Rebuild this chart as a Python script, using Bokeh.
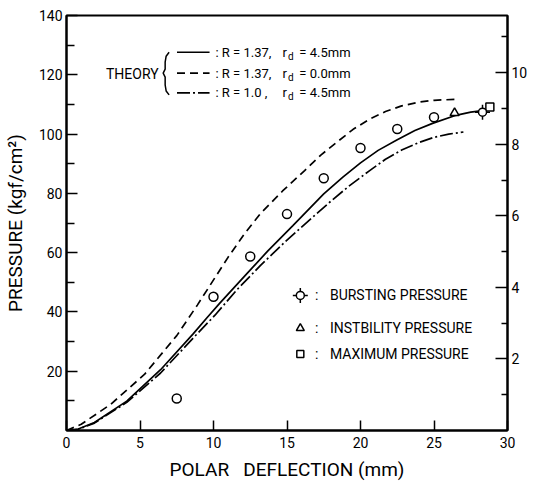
import math
from bokeh.plotting import figure
from bokeh.models import Range1d, LinearAxis, FixedTicker, Label
from bokeh.core.properties import value
from bokeh.embed import file_html
from bokeh.resources import INLINE

FONT = "Roboto"

# ---------------- data ----------------
# theory: R = 1.37, rd = 4.5 mm (solid)
solid_x = [0, 0.8, 1.9, 4.1, 6.4, 8.6, 9.6, 10.4, 12.1, 13.7, 15.4, 17.5, 18.8, 20.0, 21.2, 22.5, 23.7, 24.9, 26.4, 27.5, 28.3]
solid_y = [0, 0.5, 2.7, 9.9, 20.5, 32.5, 38.3, 42.8, 52.0, 60.6, 69.1, 79.8, 85.5, 90.3, 94.5, 98.1, 101.2, 103.6, 106.2, 107.4, 107.9]
# theory: R = 1.37, rd = 0.0 mm (dashed)
dash_x = [0, 1.0, 3.0, 5.3, 7.5, 8.9, 11.0, 12.1, 13.2, 14.7, 16.2, 17.3, 18.4, 19.5, 20.6, 21.7, 22.8, 24.0, 25.0, 26.4]
dash_y = [0, 2.1, 8.8, 18.9, 32.0, 42.3, 58.5, 66.3, 73.2, 80.8, 87.7, 92.9, 97.3, 101.6, 105.0, 107.6, 109.5, 110.8, 111.4, 111.7]
# theory: R = 1.0, rd = 4.5 mm (dash-dot)
dd_x = [0, 0.8, 1.9, 4.1, 6.4, 8.6, 10.1, 11.6, 13.2, 14.9, 16.6, 17.9, 19.2, 20.6, 21.7, 22.8, 24.0, 25.0, 26.0, 27.0]
dd_y = [0, 0.4, 2.5, 9.5, 19.4, 31.1, 38.9, 47.5, 55.7, 63.8, 71.3, 77.0, 82.4, 87.6, 91.5, 94.6, 97.2, 98.9, 100.0, 100.7]
# experiment
exp_x = [7.5, 10, 12.5, 15, 17.5, 20, 22.5, 25]
exp_y = [10.8, 45.1, 58.7, 73.0, 85.1, 95.3, 101.7, 105.7]
inst_x = [26.4]
inst_y = [107.1]
burst_x = [28.3]
burst_y = [107.4]
max_x = [28.8]
max_y = [109.1]

x_ticks = [0, 5, 10, 15, 20, 25, 30]
y_ticks = [20, 40, 60, 80, 100, 120, 140]
y_minor = [10, 30, 50, 70, 90, 110, 130]
mpa_ticks = [2, 4, 6, 8, 10]
mpa_minor = [1, 3, 5, 7, 9, 11]

theory_r = ["1.37", "1.37", "1.0 "]
theory_rd = ["4.5mm", "0.0mm", "4.5mm"]
marker_labels = ["BURSTING  PRESSURE", "INSTBILITY  PRESSURE", "MAXIMUM  PRESSURE"]

# ---------------- figure ----------------
p = figure(width=545, height=483, x_range=Range1d(0, 30), y_range=Range1d(0, 140),
           output_backend="svg", toolbar_location=None,
           min_border_left=60, min_border_right=38, min_border_top=15, min_border_bottom=50)
p.xgrid.visible = False
p.ygrid.visible = False
p.outline_line_color = "black"
p.outline_line_width = 2
p.background_fill_color = "white"
p.border_fill_color = "white"

# frame pixel helpers (frame: x 60..507, y 15..433)
def px(xp):
    return (xp - 60) / 447 * 30

def py(yp):
    return (433 - yp) / 418 * 140

for ax in (p.xaxis[0], p.yaxis[0]):
    ax.axis_line_width = 2
    ax.major_tick_line_width = 1.5
    ax.minor_tick_line_width = 1.5
    ax.major_tick_out = 0
    ax.minor_tick_out = 0
    ax.major_label_text_font = FONT
    ax.major_label_text_font_size = "14px"
    ax.major_label_text_color = "black"
    ax.axis_label_text_font = FONT
    ax.axis_label_text_font_size = "19px"
    ax.axis_label_text_font_style = "normal"
    ax.axis_label_text_color = "black"

p.xaxis.ticker = FixedTicker(ticks=x_ticks, minor_ticks=[])
p.xaxis.major_tick_in = 10
p.xaxis.major_label_standoff = 6
p.xaxis.axis_label = "POLAR\u00a0\u00a0\u00a0DEFLECTION (mm)"
p.xaxis.axis_label_standoff = 7

p.yaxis.ticker = FixedTicker(ticks=y_ticks, minor_ticks=y_minor)
p.yaxis.major_tick_in = 11
p.yaxis.minor_tick_in = 8
p.yaxis.major_label_standoff = 4
p.yaxis.axis_label = "PRESSURE (kgf/cm\u00b2)"
p.yaxis.axis_label_standoff = 9

p.extra_y_ranges = {"mpa": Range1d(0, 11.6)}
rax = LinearAxis(y_range_name="mpa", ticker=FixedTicker(ticks=mpa_ticks, minor_ticks=mpa_minor))
rax.axis_line_width = 2
rax.major_tick_line_width = 1.5
rax.minor_tick_line_width = 1.5
rax.major_tick_in = 12
rax.major_tick_out = 0
rax.minor_tick_in = 6
rax.minor_tick_out = 0
rax.major_label_standoff = 4
rax.major_label_text_font = FONT
rax.major_label_text_font_size = "14px"
rax.major_label_text_color = "black"
p.add_layout(rax, "right")

p.add_layout(Label(x=px(532), y=py(222), text="PRESSURE (MPa)", angle=math.pi / 2,
                   text_font=FONT, text_font_size="18px", text_color="black",
                   text_align="center", text_baseline="middle"))

# ---------------- theory curves ----------------
p.line(solid_x, solid_y, line_color="black", line_width=1.7)
p.line(dash_x, dash_y, line_color="black", line_width=1.7, line_dash="8 5")
p.line(dd_x, dd_y, line_color="black", line_width=1.7, line_dash="13 3 2 3")

# ---------------- experimental points ----------------
p.scatter(exp_x, exp_y, marker="circle", size=9, line_color="black", line_width=1.5, fill_color=None)
p.scatter(inst_x, inst_y, marker="triangle", size=9, line_color="black", line_width=1.5, fill_color="white")
p.scatter(max_x, max_y, marker="square", size=8, line_color="black", line_width=1.5, fill_color="white")
p.scatter(burst_x, burst_y, marker="cross", size=15, line_color="black", line_width=1.5)
p.scatter(burst_x, burst_y, marker="circle", size=8, line_color="black", line_width=1.5, fill_color="white")

# ---------------- theory legend ----------------
tf = value(FONT)
p.text([px(100)], [py(74)], text=["THEORY"], text_font=tf, text_font_size="14px",
       text_baseline="middle", text_align="left", text_color="black")
brace_px = [(164, 52), (161, 56), (160, 62), (160, 69), (158, 73), (160, 77), (160, 85), (161, 91), (164, 95)]
p.line([px(a) for a, b in brace_px], [py(b) for a, b in brace_px], line_color="black", line_width=1.5)

rows = [52, 73, 93]
styles = [None, "8 5", "13 3 2 3"]
for i, yp in enumerate(rows):
    kw = {} if styles[i] is None else {"line_dash": styles[i]}
    p.line([px(172), px(205)], [py(yp), py(yp)], line_color="black", line_width=1.7, **kw)
    p.text([px(211)], [py(yp)], text=[": R = " + theory_r[i] + ","], text_font=tf,
           text_font_size="13px", text_baseline="middle", text_color="black")
    p.text([px(279)], [py(yp)], text=["r"], text_font=tf,
           text_font_size="13px", text_baseline="middle", text_color="black")
    p.text([px(284.5)], [py(yp + 4)], text=["d"], text_font=tf,
           text_font_size="10px", text_baseline="middle", text_color="black")
    p.text([px(296)], [py(yp)], text=["= " + theory_rd[i]], text_font=tf,
           text_font_size="13px", text_baseline="middle", text_color="black")

# ---------------- marker legend ----------------
mrows = [297, 330, 356]
gx = px(297)
p.scatter([gx], [py(mrows[0])], marker="cross", size=15, line_color="black", line_width=1.5)
p.scatter([gx], [py(mrows[0])], marker="circle", size=8, line_color="black", line_width=1.5, fill_color="white")
p.scatter([gx], [py(mrows[1])], marker="triangle", size=8, line_color="black", line_width=1.5, fill_color="white")
p.scatter([gx], [py(mrows[2])], marker="square", size=7, line_color="black", line_width=1.5, fill_color="white")
for i, yp in enumerate(mrows):
    p.text([px(312)], [py(yp)], text=[":"], text_font=tf, text_font_size="14px",
           text_baseline="middle", text_color="black")
    p.text([px(327)], [py(yp)], text=[marker_labels[i]], text_font=tf, text_font_size="14px",
           text_baseline="middle", text_color="black")

open("out.html", "w").write(file_html(p, INLINE))
